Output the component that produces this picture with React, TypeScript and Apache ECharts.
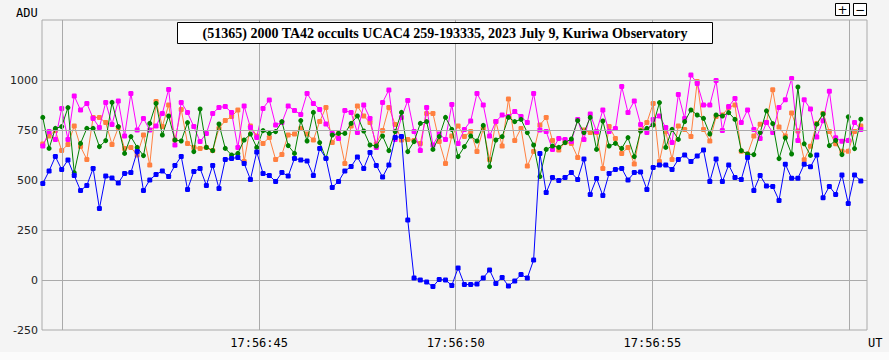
import React, { useEffect, useRef } from 'react';
import * as echarts from 'echarts';

const TITLE = '(51365) 2000 TA42 occults UCAC4 259-193335, 2023 July 9, Kuriwa Observatory';
const Y_UNIT = 'ADU';
const X_UNIT = 'UT';
const TIME_PREFIX = '17:56:';
const START_SEC = 39.5; // seconds after 17:56:00 of the first sample
const CADENCE = 0.16; // seconds between samples
const X_LABEL_SECONDS = [45, 50, 55];
const X_GRID_SECONDS = [40, 45, 50, 55, 60];
const Y_GRID_VALUES = [0, 250, 500, 750, 1000];

const target = [
  483, 545, 617, 553, 600, 522, 447, 473, 558, 357, 520, 510, 485, 533, 537, 642, 447, 500, 528,
  545, 517, 572, 618, 453, 542, 558, 473, 573, 458, 603, 607, 613, 583, 503, 640, 533, 523,
  492, 537, 520, 608, 600, 595, 523, 658, 608, 463, 493, 545, 567, 615, 558, 637, 573, 515, 575,
  712, 718, 300, 10, 0, -10, -33, 3, 0, -27, 60, -23, -22, -20, 10, 50, -17, 13,
  -30, -5, 27, 10, 100, 633, 437, 513, 497, 513, 537, 503, 605, 428, 508, 422, 533, 553,
  558, 500, 537, 540, 453, 563, 575, 575, 553, 603, 625, 592, 620, 650, 492, 605, 492, 575, 513,
  503, 613, 448, 523, 470, 467, 398, 579, 509, 509, 579, 566, 625, 411, 468, 428, 525, 383, 525, 495,
];

const comp1 = [
  813, 658, 758, 767, 862, 537, 683, 758, 758, 667, 697, 888, 767, 633, 717, 663, 622, 783, 883,
  725, 820, 700, 695, 787, 642, 855, 663, 647, 780, 658, 625, 633, 700, 730, 663, 747, 733,
  742, 792, 672, 633, 797, 695, 838, 687, 608, 725, 733, 733, 783, 820, 745, 675, 670, 720, 647,
  742, 838, 642, 692, 783, 792, 653, 717, 813, 753, 617, 667, 720, 695, 773, 567, 700, 717,
  813, 792, 803, 737, 675, 517, 653, 670, 663, 687, 705, 797, 737, 813, 653, 795, 670, 683,
  658, 712, 617, 745, 758, 775, 887, 663, 753, 703, 792, 850, 825, 808, 730, 825, 820, 837, 803,
  647, 630, 627, 737, 846, 782, 607, 711, 630, 965, 681, 623, 779, 830, 672, 698, 627, 816, 657, 804,
];

const comp2 = [
  670, 742, 703, 858, 703, 920, 850, 883, 808, 762, 888, 778, 895, 720, 933, 750, 808, 750, 770,
  833, 953, 675, 888, 837, 767, 692, 733, 833, 863, 867, 837, 662, 870, 762, 713, 858, 900,
  775, 787, 870, 847, 828, 933, 883, 853, 780, 733, 708, 847, 837, 737, 875, 808, 663, 888, 950,
  703, 813, 897, 742, 647, 862, 675, 730, 703, 878, 683, 753, 795, 933, 875, 720, 792, 825,
  817, 842, 817, 788, 933, 750, 742, 653, 707, 703, 692, 803, 703, 830, 742, 850, 742, 758,
  967, 838, 895, 778, 737, 803, 820, 762, 687, 928, 808, 1025, 983, 875, 875, 997, 747, 867, 908,
  787, 850, 753, 708, 787, 737, 863, 901, 1007, 698, 901, 855, 715, 796, 944, 711, 694, 698, 787, 753,
];

const comp3 = [
  680, 720, 747, 647, 678, 770, 667, 603, 813, 812, 787, 678, 762, 658, 663, 625, 725, 575, 892,
  767, 875, 700, 853, 683, 662, 658, 663, 647, 758, 797, 817, 850, 592, 770, 720, 683, 713,
  603, 628, 725, 730, 758, 730, 700, 792, 863, 687, 733, 583, 770, 870, 820, 787, 680, 747, 863,
  778, 700, 703, 697, 683, 833, 833, 692, 583, 720, 770, 717, 742, 642, 758, 603, 792, 670,
  905, 697, 758, 570, 642, 775, 813, 697, 650, 687, 683, 613, 750, 737, 737, 558, 767, 708,
  633, 663, 580, 750, 787, 883, 592, 742, 603, 770, 753, 717, 992, 753, 695, 817, 825, 863, 875,
  644, 630, 720, 779, 787, 951, 765, 720, 835, 745, 601, 669, 782, 833, 742, 681, 644, 644, 742, 770,
];

const SERIES = [
  { name: 'comp3', data: comp3, color: '#ff8040', symbol: 'roundRect' },
  { name: 'comp2', data: comp2, color: '#ff00ff', symbol: 'roundRect' },
  { name: 'comp1', data: comp1, color: '#008000', symbol: 'circle' },
  { name: 'target', data: target, color: '#0000ff', symbol: 'roundRect' },
];

export default function App() {
  const ref = useRef<HTMLDivElement>(null);

  useEffect(() => {
    document.body.style.margin = '0';
    document.body.style.background = '#fbfbfb';
    const chart = echarts.init(ref.current!, null, { renderer: 'svg' });
    const toPairs = (arr: number[]) => arr.map((v, i) => [START_SEC + i * CADENCE, v]);
    const gridColor = '#aaaaaa';
    const monoFont = '"DejaVu Sans Mono"';

    chart.setOption({
      animation: false,
      backgroundColor: '#f4f4f4',
      grid: {
        left: 42,
        right: 22,
        top: 20,
        bottom: 22,
        show: true,
        borderColor: gridColor,
        borderWidth: 1,
        backgroundColor: 'transparent',
      },
      xAxis: {
        type: 'value',
        min: START_SEC - 0.02,
        max: 60.457,
        axisLine: { show: false },
        axisTick: { show: false },
        splitLine: { show: false },
        axisLabel: {
          customValues: X_LABEL_SECONDS,
          formatter: (v: number) => TIME_PREFIX + String(Math.round(v)).padStart(2, '0'),
          fontFamily: 'DejaVu Sans Mono',
          fontSize: 12,
          color: '#000',
          margin: 7,
        },
      },
      yAxis: {
        type: 'value',
        min: -250,
        max: 1300,
        interval: 250,
        axisLine: { show: false },
        axisTick: { show: false },
        splitLine: { show: false },
        axisLabel: {
          formatter: (v: number) => (v > 1000 ? '' : String(v)),
          showMaxLabel: false,
          fontFamily: 'DejaVu Sans',
          fontSize: 11,
          color: '#222',
          margin: 4,
        },
      },
      graphic: [
        {
          type: 'text',
          left: 16,
          top: 7,
          style: { text: Y_UNIT, font: '12px ' + monoFont, fill: '#000' },
        },
        {
          type: 'text',
          left: 868,
          top: 337,
          style: { text: X_UNIT, font: '12px ' + monoFont, fill: '#000' },
        },
        {
          type: 'rect',
          shape: { x: 177.5, y: 22.5, width: 535, height: 21 },
          style: { fill: '#ffffff', stroke: '#000000', lineWidth: 1 },
          z: 100,
        },
        {
          type: 'text',
          x: 445,
          y: 33.5,
          style: {
            text: TITLE,
            font: 'bold 14px "Liberation Serif"',
            fill: '#000',
            align: 'center',
            verticalAlign: 'middle',
          },
          z: 101,
        },
        {
          type: 'rect',
          shape: { x: 835.5, y: 3.5, width: 14, height: 12 },
          style: { fill: '#ffffff', stroke: '#000000', lineWidth: 1 },
          z: 100,
        },
        {
          type: 'text',
          x: 842.5,
          y: 9.5,
          style: { text: '+', font: '12px "DejaVu Sans"', fill: '#000', align: 'center', verticalAlign: 'middle' },
          z: 101,
        },
        {
          type: 'rect',
          shape: { x: 853.5, y: 3.5, width: 13, height: 12 },
          style: { fill: '#ffffff', stroke: '#000000', lineWidth: 1 },
          z: 100,
        },
        {
          type: 'text',
          x: 860,
          y: 9.5,
          style: { text: '−', font: '12px "DejaVu Sans"', fill: '#000', align: 'center', verticalAlign: 'middle' },
          z: 101,
        },
      ],
      series: [
        {
          type: 'line',
          data: [],
          z: 1,
          silent: true,
          markLine: {
            silent: true,
            symbol: ['none', 'none'],
            label: { show: false },
            lineStyle: { color: gridColor, width: 1, type: 'solid' },
            data: [
              ...X_GRID_SECONDS.map((x) => ({ xAxis: x })),
              ...Y_GRID_VALUES.map((y) => ({ yAxis: y })),
            ],
          },
        },
        ...SERIES.map((s, k) => ({
          name: s.name,
          type: 'line',
          data: toPairs(s.data),
          z: 2 + k,
          symbol: s.symbol,
          symbolSize: 5,
          showSymbol: true,
          showAllSymbol: true,
          lineStyle: { color: s.color, width: 1 },
          itemStyle: { color: s.color },
          silent: true,
        })),
      ],
    });

    return () => chart.dispose();
  }, []);

  return <div ref={ref} style={{ width: 889, height: 352 }} />;
}
